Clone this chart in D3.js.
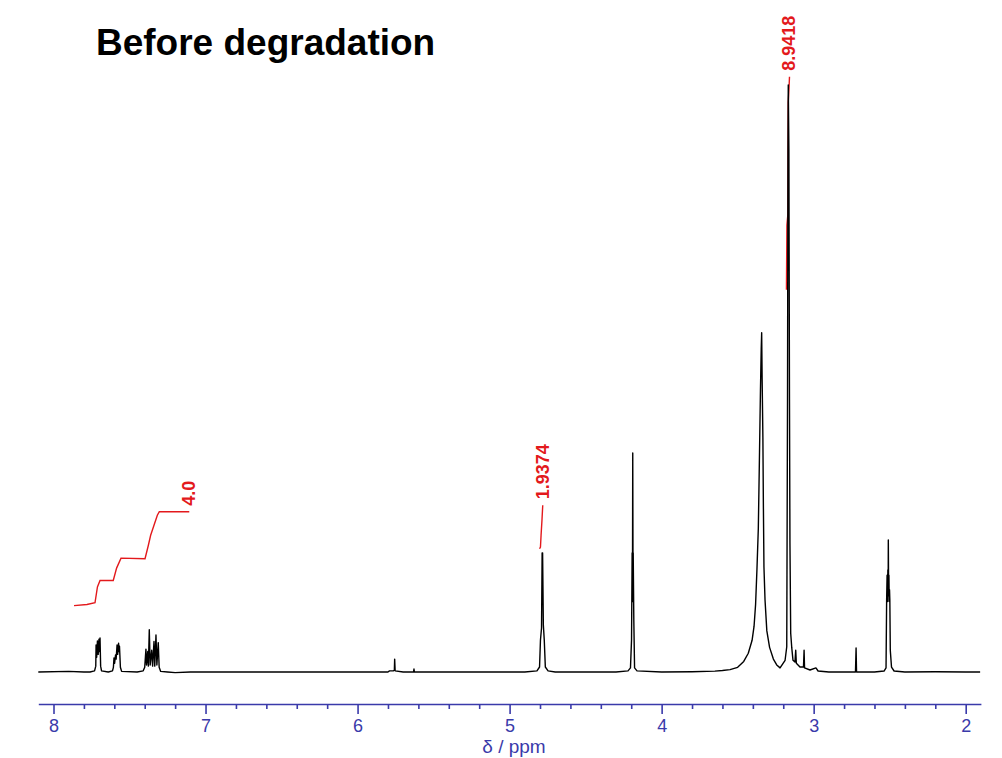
<!DOCTYPE html>
<html>
<head>
<meta charset="utf-8">
<script src="https://cdn.jsdelivr.net/npm/d3@7"></script>
<style>
  body { margin: 0; background: #fff; }
  svg { display: block; }
</style>
</head>
<body>
<script>
// 1H NMR spectrum, before degradation
// spectrum trace: [ppm, intensity] (tallest line = 100)
const spectrum = [
  [8.10, 0], [7.90, 0.1], [7.80, 0], [7.760, 0],
  // doublet ~7.71
  [7.730, 0.2], [7.722, 1.0], [7.720, 4.6], [7.716, 2.5], [7.711, 5.3], [7.706, 3.0],
  [7.701, 5.6], [7.698, 3.5], [7.694, 5.8], [7.690, 1.0], [7.684, 0.2], [7.640, 0],
  // doublet ~7.58
  [7.612, 0.2], [7.606, 0.8], [7.602, 2.4], [7.598, 1.5], [7.592, 2.9], [7.588, 2.2],
  [7.582, 4.6], [7.578, 3.0], [7.572, 4.9], [7.569, 3.5], [7.566, 4.4], [7.560, 0.8],
  [7.552, 0.1], [7.450, 0],
  // multiplet ~7.35
  [7.410, 0.2], [7.400, 0.8], [7.392, 3.9], [7.388, 1.2], [7.380, 3.5], [7.376, 1.0],
  [7.370, 7.2], [7.364, 1.2], [7.354, 3.7], [7.348, 1.0], [7.339, 5.2], [7.334, 1.0],
  [7.326, 6.3], [7.320, 1.2], [7.311, 5.0], [7.305, 0.8], [7.295, 0.1], [7.250, 0],
  [7.200, -0.1], [7.100, 0], [5.800, 0],
  // small lines near 5.7
  [5.790, 0.2], [5.765, 0.2], [5.758, 0.3], [5.756, 2.2], [5.753, 0.2], [5.700, 0],
  [5.632, 0], [5.629, 0.5], [5.626, 0], [4.900, 0],
  // 4.78
  [4.820, 0.2], [4.803, 0.85], [4.797, 5.45], [4.790, 7.5], [4.786, 20.3], [4.783, 20.3],
  [4.778, 8.0], [4.772, 5.45], [4.765, 0.85], [4.747, 0.2], [4.700, 0], [4.300, 0],
  // 4.19
  [4.221, 0.2], [4.205, 0.7], [4.198, 5.45], [4.194, 20.3], [4.192, 12], [4.190, 37.3],
  [4.188, 15], [4.187, 20.3], [4.183, 8.9], [4.178, 0.7], [4.162, 0.2], [4.000, 0],
  // broad 3.34
  [3.800, 0.05], [3.650, 0.15], [3.600, 0.25], [3.550, 0.4], [3.500, 0.8], [3.460, 1.8],
  [3.430, 3.2], [3.405, 5.4], [3.392, 7.8], [3.382, 11.5], [3.373, 17.5], [3.364, 24.5],
  [3.357, 36], [3.350, 48], [3.345, 55], [3.342, 57.8], [3.339, 50], [3.336, 44], [3.334, 40],
  [3.331, 29.3], [3.327, 17.9], [3.320, 12.3], [3.308, 7.0], [3.290, 4.2], [3.265, 2.2],
  [3.243, 1.2], [3.221, 0.7],
  // 3.17
  [3.188, 2.0], [3.177, 4.3], [3.172, 46.3], [3.169, 88.9], [3.167, 100], [3.163, 88.9],
  [3.159, 46.3], [3.156, 22.0], [3.151, 6.6], [3.144, 4.1], [3.136, 2.0], [3.123, 1.7],
  [3.118, 3.7], [3.114, 1.5], [3.090, 0.85], [3.067, 0.85], [3.063, 3.7], [3.060, 0.7],
  [3.024, 0.34], [2.985, 0.7], [2.971, 0.17], [2.900, 0],
  // 2.72
  [2.725, 0], [2.721, 4.1], [2.718, 0], [2.600, 0],
  // 2.50
  [2.537, 0.17], [2.524, 0.7], [2.520, 12.3], [2.517, 16.5], [2.514, 12.0], [2.512, 17.4],
  [2.510, 13], [2.509, 22.5], [2.507, 14], [2.505, 16.5], [2.503, 12], [2.501, 14.0],
  [2.499, 12.3], [2.496, 3.7], [2.488, 0.85], [2.471, 0.17], [2.400, 0], [2.200, 0.05],
  [2.000, 0], [1.905, 0]
]

// integral curves [ppm, height on the same scale]
const integralAromatic = [
  [7.865, 11.3], [7.780, 11.5], [7.727, 11.8], [7.711, 14.5], [7.694, 15.6], [7.607, 15.6],
  [7.585, 17.7], [7.556, 19.4], [7.398, 19.3], [7.376, 21.6], [7.361, 23.3], [7.339, 25.0],
  [7.317, 26.7], [7.304, 27.3], [7.107, 27.3]
]
const integralNH = [
  [4.803, 21.0], [4.797, 21.3], [4.793, 23.3], [4.787, 25.9], [4.782, 28.4]
]
const integralMe = [
  [3.179, 65.1], [3.176, 76.1], [3.1695, 78.0], [3.1675, 97.0], [3.162, 99.5], [3.159, 101.4]
]
const integrals = [integralAromatic, integralNH, integralMe]
const integralLabels = ['4.0', '1.9374', '8.9418']

// axis ticks
const majorTicks = [8, 7, 6, 5, 4, 3, 2]
const minorTicks = [7.8, 7.6, 7.4, 7.2, 6.8, 6.6, 6.4, 6.2, 5.8, 5.6, 5.4, 5.2,
  4.8, 4.6, 4.4, 4.2, 3.8, 3.6, 3.4, 3.2, 2.8, 2.6, 2.4, 2.2]

const width = 1002, height = 758
const blue = '#3a3aaa', red = '#e3191c'

const svg = d3.select('body').append('svg')
    .attr('width', width)
    .attr('height', height)
    .style('font-family', '"Liberation Sans", Arial, sans-serif')

svg.append('rect').attr('width', width).attr('height', height).attr('fill', '#fff')

// ppm runs right to left
const xScale = d3.scaleLinear()
    .domain([8.1, 1.9])
    .range([38.3, 980.9])

const yScale = d3.scaleLinear()
    .domain([0, 100])
    .range([672, 85])

// axis: major ticks with labels, minor ticks without
const axisY = 704
const xAxis = svg.append('g')
    .attr('transform', 'translate(0,' + axisY + ')')
    .call(d3.axisBottom(xScale)
        .tickValues(majorTicks)
        .tickFormat(d3.format('d'))
        .tickSize(10)
        .tickSizeOuter(0)
        .tickPadding(5))
xAxis.select('.domain').attr('stroke', blue).attr('stroke-width', 1.6)
xAxis.selectAll('.tick line').attr('stroke', blue).attr('stroke-width', 1.6)
xAxis.selectAll('.tick text')
    .attr('fill', blue)
    .attr('font-size', '18px')
    .attr('font-family', '"Liberation Sans", Arial, sans-serif')

const minorAxis = svg.append('g')
    .attr('transform', 'translate(0,' + axisY + ')')
    .call(d3.axisBottom(xScale)
        .tickValues(minorTicks)
        .tickFormat('')
        .tickSize(5)
        .tickSizeOuter(0))
minorAxis.select('.domain').remove()
minorAxis.selectAll('.tick line').attr('stroke', blue).attr('stroke-width', 1.6)

svg.append('text')
    .attr('x', 514)
    .attr('y', 753)
    .attr('text-anchor', 'middle')
    .attr('font-size', '19px')
    .attr('fill', blue)
    .text('δ / ppm')

const line = d3.line()
    .x(d => xScale(d[0]))
    .y(d => yScale(d[1]))

// integrals first so the spectrum sits on top
integrals.forEach((pts, i) => {
    svg.append('path')
        .datum(pts)
        .attr('d', line)
        .attr('fill', 'none')
        .attr('stroke', red)
        .attr('stroke-width', 1.4)
    const last = pts[pts.length - 1]
    const lx = xScale(last[0]) + 6
    const ly = yScale(last[1]) - 6
    svg.append('text')
        .attr('transform', 'translate(' + lx + ',' + ly + ') rotate(-90)')
        .attr('font-size', '18px')
        .attr('font-weight', 'bold')
        .attr('fill', red)
        .text(integralLabels[i])
})

svg.append('path')
    .datum(spectrum)
    .attr('d', line)
    .attr('fill', 'none')
    .attr('stroke', '#000')
    .attr('stroke-width', 1.4)
    .attr('stroke-linejoin', 'round')

// title
svg.append('text')
    .attr('x', 96)
    .attr('y', 55)
    .attr('font-size', '37px')
    .attr('font-weight', 'bold')
    .attr('fill', '#000')
    .text('Before degradation')
</script>
</body>
</html>
